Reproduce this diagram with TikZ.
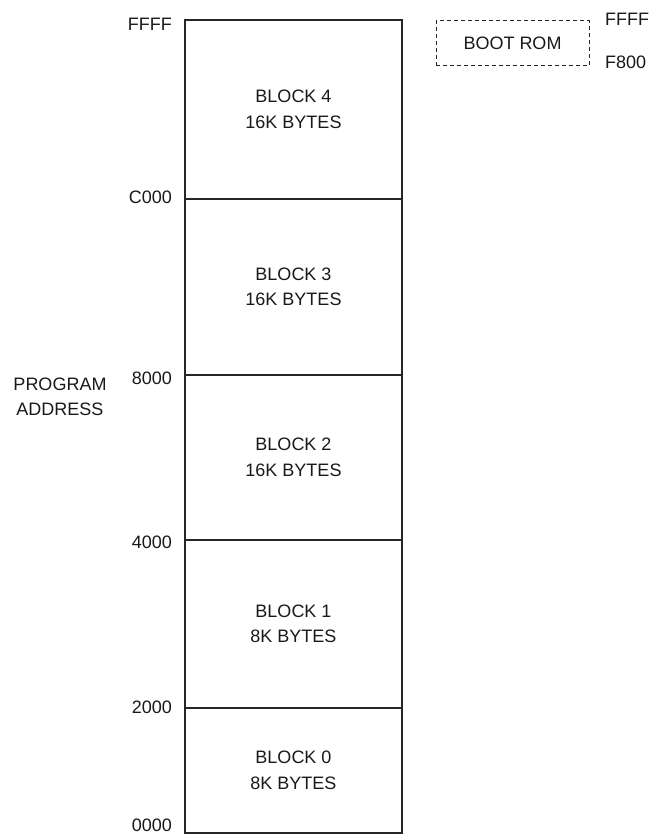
\documentclass[tikz,border=0pt]{standalone}
\usepackage{fontspec}
\setmainfont{Liberation Sans}
\begin{document}
\begin{tikzpicture}[x=1pt,y=-1pt,
  every node/.style={font=\fontsize{18}{25.5}\selectfont, inner sep=0pt, text=black!90},
  blk/.style={draw=black!85, line width=1.1pt, outer sep=0pt, minimum width=217pt, align=center, anchor=north},
  addr/.style={anchor=base east},
  raddr/.style={anchor=base west},
  rom/.style={draw=black!85, line width=0.9pt, dash pattern=on 4pt off 3pt, minimum width=153pt, minimum height=45pt}]
\useasboundingbox (0,0) rectangle (658,836);
% blocks
\node[blk, minimum height=179pt] (b4) at (293.5,20) {BLOCK 4\\16K BYTES};
\node[blk, minimum height=176pt] (b3) at (b4.south) {BLOCK 3\\16K BYTES};
\node[blk, minimum height=165pt] (b2) at (b3.south) {BLOCK 2\\16K BYTES};
\node[blk, minimum height=168pt] (b1) at (b2.south) {BLOCK 1\\8K BYTES};
\node[blk, minimum height=125pt] (b0) at (b1.south) {BLOCK 0\\8K BYTES};
% address labels
\node[addr] (aFFFF) at (172,30) {FFFF};
\node[addr] (aC000) at (172,203) {C000};
\node[addr] (a8000) at (172,384) {8000};
\node[addr] (a4000) at (172,548) {4000};
\node[addr] (a2000) at (172,713) {2000};
\node[addr] (a0000) at (172,831.5) {0000};
\node[align=center] (pa) at (60,397) {PROGRAM\\ADDRESS};
% boot rom
\node[rom] (boot) at (512.5,43.2) {BOOT ROM};
\node[raddr] (rFFFF) at (605,25) {FFFF};
\node[raddr] (rF800) at (605,68) {F800};
\end{tikzpicture}
\end{document}
